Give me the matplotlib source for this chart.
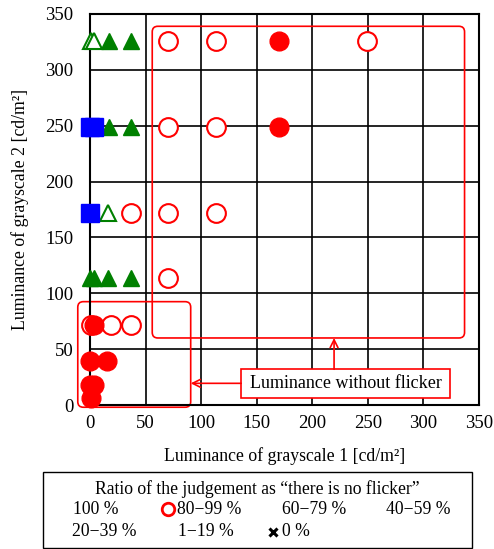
import matplotlib
matplotlib.use("Agg")
import matplotlib.pyplot as plt
from matplotlib.patches import FancyBboxPatch, Rectangle
from matplotlib.lines import Line2D

plt.rcParams['font.family'] = ['Liberation Serif', 'DejaVu Serif']

# ratio 100 % (filled red circles)
full_x = [170, 170, 4, 0, 15, 0, 4, 1]
full_y = [326, 249, 72, 39, 39, 18, 18, 6]
# 80-99 % (open red circles)
c80_x = [70, 113, 249, 70, 113, 37, 70, 113, 70, 1, 19, 37]
c80_y = [326, 326, 326, 249, 249, 172, 172, 172, 114, 72, 72, 72]
# 60-79 % (filled green triangles)
t60_x = [17, 37, 17, 37, 1, 0, 4, 16, 37]
t60_y = [326, 326, 249, 249, 172, 114, 114, 114, 114]
# 40-59 % (open green triangles)
t40_x = [1, 4, 16]
t40_y = [326, 326, 172]
# 20-39 % (blue squares)
sq_x = [0, 4, 0]
sq_y = [249, 249, 172]

ticks = [0, 50, 100, 150, 200, 250, 300, 350]

fig = plt.figure(figsize=(4.94, 5.49), dpi=100)
ax = fig.add_axes([90 / 494, 1 - 405 / 549, 389 / 494, 391 / 549])
ax.set_xlim(0, 350)
ax.set_ylim(0, 350)
ax.set_xticks(ticks)
ax.set_yticks(ticks)
ax.tick_params(length=0, labelsize=13.5)
ax.tick_params(axis='y', pad=12)
ax.tick_params(axis='x', pad=7)
ax.grid(True, color='black', lw=1.2)
ax.set_axisbelow(True)
for s in ax.spines.values():
    s.set_linewidth(1.5)

ax.set_xlabel('Luminance of grayscale 1 [cd/m²]', fontsize=12.8, labelpad=11)
ax.set_ylabel('Luminance of grayscale 2 [cd/m²]', fontsize=12.8, labelpad=12)

red = '#ff0000'
green = '#008000'
ax.plot(t60_x, t60_y, '^', ms=12, color=green, ls='none', clip_on=False, zorder=3)
ax.plot(t40_x, t40_y, '^', ms=12, mfc='white', mec=green, mew=1.5, ls='none',
        clip_on=False, zorder=3)
ax.plot(sq_x, sq_y, 's', ms=13, color='#0000ff', ls='none', clip_on=False, zorder=4)
ax.plot(c80_x, c80_y, 'o', ms=13.5, mfc='white', mec=red, mew=1.5, ls='none',
        clip_on=False, zorder=3)
ax.plot(full_x, full_y, 'o', ms=13.5, color=red, ls='none', clip_on=False, zorder=5)

# grouping boxes
big = FancyBboxPatch((56, 60), 281, 279, boxstyle='round,pad=0,rounding_size=5',
                     fc='none', ec=red, lw=1.2, clip_on=False, zorder=2.5)
small = FancyBboxPatch((-11, -2), 101.6, 94.5, boxstyle='round,pad=0,rounding_size=5',
                       fc='none', ec=red, lw=1.2, clip_on=False, zorder=2.5)
ax.add_patch(big)
ax.add_patch(small)
lab = Rectangle((136, 6.5), 188, 25.5, fc='white', ec=red, lw=1.2, zorder=6)
ax.add_patch(lab)
ax.text(230, 19.3, 'Luminance without flicker', ha='center', va='center',
        fontsize=13, zorder=7)
ax.annotate('', xy=(90.6, 19.4), xytext=(136, 19.4),
            arrowprops=dict(arrowstyle='->', color=red, lw=1.2, mutation_scale=14,
                            shrinkA=0, shrinkB=0), zorder=6)
ax.annotate('', xy=(219.6, 60), xytext=(219.6, 32),
            arrowprops=dict(arrowstyle='->', color=red, lw=1.2, mutation_scale=14,
                            shrinkA=0, shrinkB=0), zorder=6)

# legend box at the bottom
W, H = 494, 549
fig.patches.append(Rectangle((43 / W, 1 - 548 / H), 429 / W, 76 / H, fc='white',
                             ec='black', lw=1.0, transform=fig.transFigure))
fs = 12.7
fig.text(257 / W, 1 - 489 / H, 'Ratio of the judgement as “there is no flicker”',
         ha='center', va='center', fontsize=fs)
fig.text(73 / W, 1 - 509 / H, '100 %', va='center', fontsize=fs)
fig.add_artist(Line2D([168 / W], [1 - 509 / H], marker='o', ms=9, mfc='white',
                      mec=red, mew=2, transform=fig.transFigure))
fig.text(177 / W, 1 - 509 / H, '80−99 %', va='center', fontsize=fs)
fig.text(282 / W, 1 - 509 / H, '60−79 %', va='center', fontsize=fs)
fig.text(386 / W, 1 - 509 / H, '40−59 %', va='center', fontsize=fs)
fig.text(72 / W, 1 - 532 / H, '20−39 %', va='center', fontsize=fs)
fig.text(178 / W, 1 - 532 / H, '1−19 %', va='center', fontsize=fs)
fig.add_artist(Line2D([273 / W], [1 - 532 / H], marker='x', ms=6, mec='black',
                      mew=2.2, transform=fig.transFigure))
fig.text(282 / W, 1 - 532 / H, '0 %', va='center', fontsize=fs)

fig.savefig('out.png', dpi=100)
